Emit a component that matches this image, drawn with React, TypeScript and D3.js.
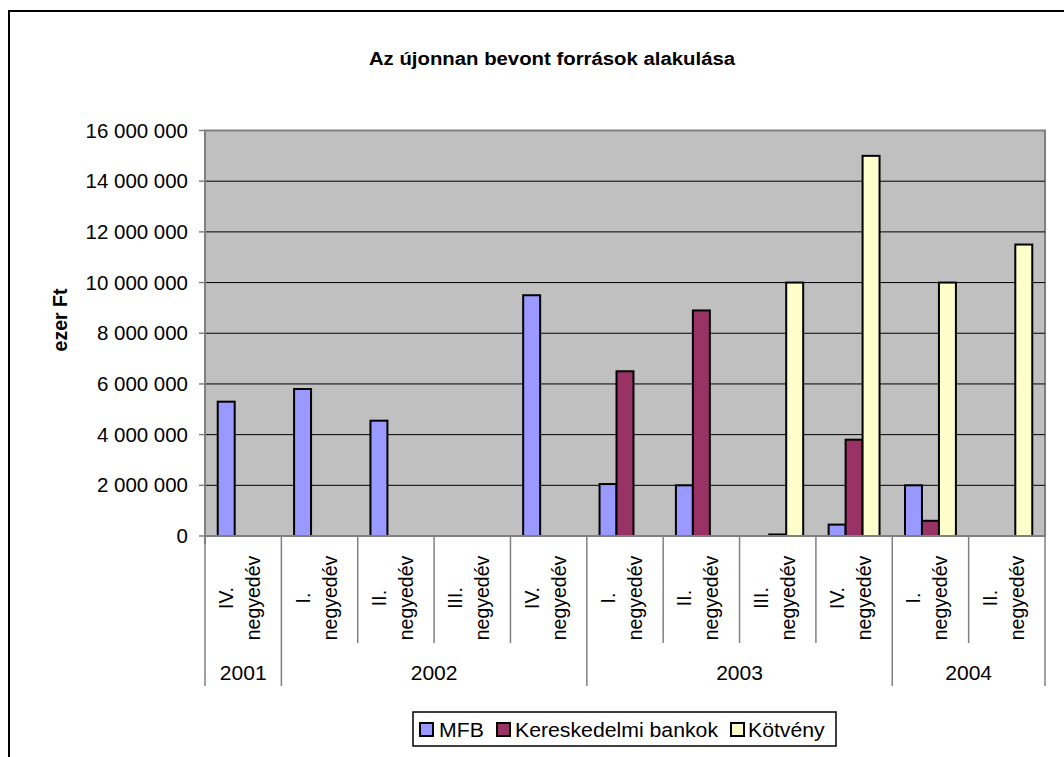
import React from "react";
import * as d3 from "d3";

const quarters = ["IV.", "I.", "II.", "III.", "IV.", "I.", "II.", "III.", "IV.", "I.", "II."];
const years = [
  { label: "2001", span: 1 },
  { label: "2002", span: 4 },
  { label: "2003", span: 4 },
  { label: "2004", span: 2 },
];
const seriesNames = ["MFB", "Kereskedelmi bankok", "Kötvény"];
const seriesColors = ["#9999FF", "#993366", "#FFFFCC"];
const mfb: (number | null)[] = [5300000, 5800000, 4550000, null, 9500000, 2050000, 2000000, null, 450000, 2000000, null];
const kereskedelmi: (number | null)[] = [null, null, null, null, null, 6500000, 8900000, 60000, 3800000, 600000, null];
const kotveny: (number | null)[] = [null, null, null, null, null, null, null, 10000000, 15000000, 10000000, 11500000];
const yTicks = [0, 2000000, 4000000, 6000000, 8000000, 10000000, 12000000, 14000000, 16000000];

const W = 1064;
const H = 757;
const plot = { left: 205, right: 1045, top: 130.5, bottom: 536 };
const FONT = "'Liberation Sans', Arial, sans-serif";

const fmt = (v: number) => d3.format(",")(v).replace(/,/g, " ");

export default function App() {
  const idx = quarters.map((_, i) => i);
  const x = d3.scaleBand<number>().domain(idx).range([plot.left, plot.right]).padding(0);
  const step = x.step();
  const x1 = d3
    .scaleBand<number>()
    .domain([0, 1, 2])
    .range([step / 6, (step * 5) / 6])
    .padding(0);
  const y = d3.scaleLinear().domain([0, 16000000]).range([plot.bottom, plot.top]);
  const series = [mfb, kereskedelmi, kotveny];

  let acc = 0;
  const yearSpans = years.map((yr) => {
    const s = acc;
    acc += yr.span;
    return { ...yr, start: s, end: acc };
  });
  const yearBoundaryIdx = new Set<number>([0, ...yearSpans.map((d) => d.end)]);

  const legendItems = [
    { x: 420, tx: 439 },
    { x: 497, tx: 515 },
    { x: 731, tx: 748 },
  ];

  return (
    <svg
      width={W}
      height={H}
      style={{ position: "absolute", left: 0, top: 0, background: "#fff" }}
      fontFamily={FONT}
    >
      <rect x={0} y={0} width={W} height={H} fill="#fff" />
      <rect x={9} y={11} width={W + 50} height={H + 50} fill="#fff" stroke="#000" strokeWidth={2} />

      <text transform="translate(552,65) scale(1.1,1)" textAnchor="middle" fontWeight="bold" fontSize={18.5}>
        Az újonnan bevont források alakulása
      </text>

      <rect
        x={plot.left}
        y={plot.top}
        width={plot.right - plot.left}
        height={plot.bottom - plot.top}
        fill="#C0C0C0"
        stroke="#808080"
        strokeWidth={2}
      />
      {yTicks
        .filter((t) => t > 0 && t < 16000000)
        .map((t) => (
          <line key={t} x1={plot.left} x2={plot.right} y1={y(t)} y2={y(t)} stroke="#000" strokeWidth={1} />
        ))}

      {series.map((vals, si) =>
        vals.map((v, i) =>
          v == null ? null : (
            <rect
              key={`${si}-${i}`}
              x={(x(i) as number) + (x1(si) as number)}
              y={y(v)}
              width={x1.bandwidth()}
              height={Math.max(0, y(0) - y(v))}
              fill={seriesColors[si]}
              stroke="#000"
              strokeWidth={2}
            />
          )
        )
      )}

      <line x1={plot.left} x2={plot.left} y1={plot.top} y2={plot.bottom + 8} stroke="#808080" strokeWidth={2} />
      {yTicks.map((t) => (
        <g key={t}>
          <line x1={plot.left - 6} x2={plot.left} y1={y(t)} y2={y(t)} stroke="#808080" strokeWidth={1.5} />
          <text
            transform={`translate(188,${y(t)}) scale(1.05,1)`}
            dy="0.36em"
            textAnchor="end"
            fontSize={19.5}
          >
            {fmt(t)}
          </text>
        </g>
      ))}
      <line x1={plot.left} x2={plot.right} y1={plot.bottom} y2={plot.bottom} stroke="#808080" strokeWidth={2} />
      {d3.range(quarters.length + 1).map((b) => {
        const bx = b < quarters.length ? (x(b) as number) : plot.right;
        const isYear = yearBoundaryIdx.has(b);
        return (
          <line
            key={b}
            x1={bx}
            x2={bx}
            y1={plot.bottom}
            y2={isYear ? 686 : 643}
            stroke="#808080"
            strokeWidth={1.5}
          />
        );
      })}
      {quarters.map((q, i) => {
        const cx = (x(i) as number) + step / 2;
        return (
          <text key={i} transform={`translate(${cx},598) rotate(-90)`} textAnchor="middle" fontSize={19.5}>
            <tspan x={0} y={-10}>
              {q}
            </tspan>
            <tspan x={0} y={17}>
              negyedév
            </tspan>
          </text>
        );
      })}
      {yearSpans.map((yr) => {
        const x0 = x(yr.start) as number;
        const xe = yr.end < quarters.length ? (x(yr.end) as number) : plot.right;
        return (
          <text
            key={yr.label}
            transform={`translate(${(x0 + xe) / 2},680) scale(1.08,1)`}
            textAnchor="middle"
            fontSize={19.5}
          >
            {yr.label}
          </text>
        );
      })}

      <text transform="translate(67,320) rotate(-90)" textAnchor="middle" fontWeight="bold" fontSize={19.5}>
        ezer Ft
      </text>

      <rect x={413} y={712} width={423} height={34} fill="#fff" stroke="#000" strokeWidth={1.5} />
      {seriesNames.map((n, i) => (
        <g key={n}>
          <rect x={legendItems[i].x} y={723} width={13} height={13} fill={seriesColors[i]} stroke="#000" strokeWidth={2} />
          <text transform={`translate(${legendItems[i].tx},737) scale(1.09,1)`} fontSize={19.5}>
            {n}
          </text>
        </g>
      ))}
    </svg>
  );
}
